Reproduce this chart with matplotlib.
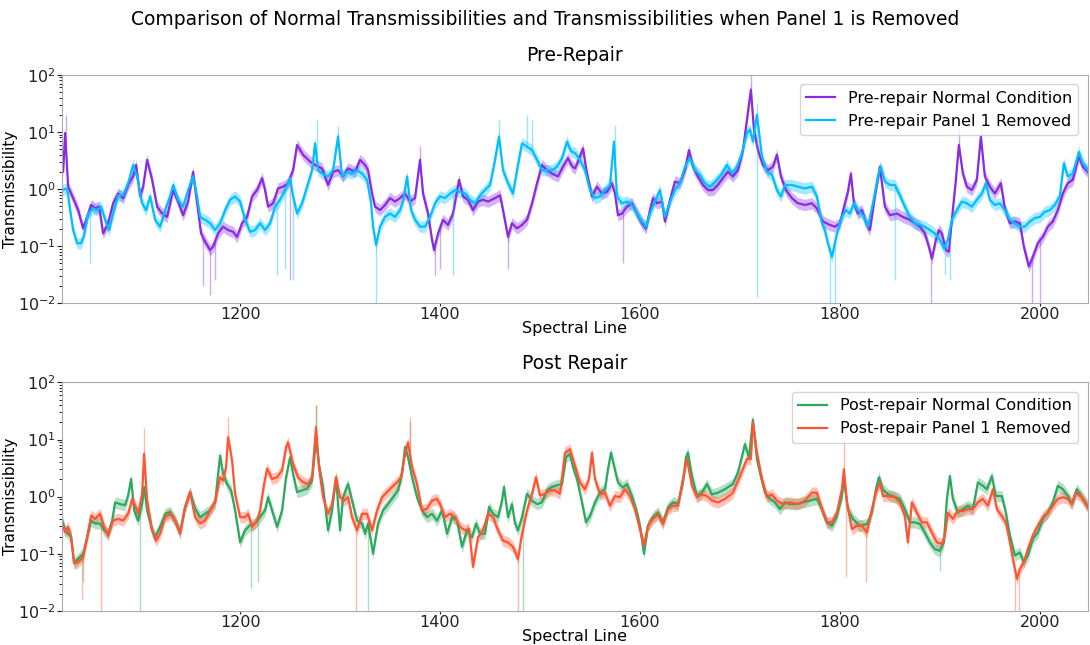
import numpy as np
import matplotlib
matplotlib.use("Agg")
import matplotlib.pyplot as plt

# ---------------------------------------------------------------
# DATA (log10 of transmissibility)

pre_normal_x = [1023, 1025, 1028, 1033, 1038, 1043, 1047, 1051, 1055, 1059, 1063, 1068, 1073, 1078, 1083, 1088,
                1093, 1096, 1100, 1103, 1107, 1112, 1117, 1122, 1127, 1133, 1138, 1143, 1148, 1153, 1157, 1161,
                1165, 1170, 1173, 1178, 1183, 1188, 1193, 1197, 1202, 1207, 1212, 1217, 1222, 1225, 1228, 1233,
                1238, 1243, 1248, 1253, 1257, 1263, 1270, 1275, 1282, 1288, 1293, 1298, 1303, 1308, 1315, 1320,
                1325, 1328, 1332, 1335, 1340, 1345, 1350, 1355, 1360, 1365, 1370, 1375, 1380, 1383, 1388, 1392,
                1394, 1398, 1403, 1408, 1413, 1419, 1423, 1428, 1433, 1438, 1443, 1448, 1455, 1460, 1463, 1468,
                1472, 1477, 1482, 1487, 1492, 1497, 1502, 1507, 1512, 1518, 1523, 1528, 1532, 1535, 1538, 1543,
                1547, 1552, 1557, 1562, 1567, 1572, 1575, 1578, 1582, 1587, 1592, 1597, 1602, 1606, 1610, 1613,
                1617, 1622, 1625, 1630, 1635, 1640, 1645, 1649, 1653, 1658, 1663, 1668, 1673, 1678, 1683, 1688,
                1693, 1698, 1703, 1707, 1711, 1714, 1718, 1723, 1728, 1733, 1737, 1741, 1746, 1752, 1758, 1765,
                1772, 1777, 1783, 1790, 1795, 1800, 1805, 1808, 1811, 1814, 1818, 1822, 1827, 1830, 1835, 1840,
                1845, 1850, 1857, 1863, 1870, 1875, 1880, 1885, 1889, 1892, 1896, 1899, 1902, 1906, 1909, 1912,
                1916, 1919, 1923, 1927, 1932, 1937, 1941, 1945, 1950, 1955, 1961, 1965, 1970, 1975, 1980, 1984,
                1989, 1993, 1998, 2003, 2008, 2013, 2018, 2023, 2028, 2033, 2039, 2043, 2048]
pre_normal_log = [0.30, 0.98, 0.04, -0.16, -0.37, -0.69, -0.49, -0.28, -0.34, -0.31, -0.78, -0.60, -0.25, -0.08, -0.16, 0.07,
                  0.22, 0.42, -0.13, 0.04, 0.51, 0.16, -0.31, -0.43, -0.49, -0.02, -0.22, -0.46, -0.22, 0.30, -0.25, -0.78,
                  -0.92, -1.07, -1.01, -0.78, -0.66, -0.72, -0.75, -0.84, -0.60, -0.49, -0.13, -0.02, 0.19, -0.02, -0.31, -0.25,
                  0.01, 0.04, 0.10, 0.33, 0.77, 0.60, 0.48, 0.42, 0.36, 0.07, 0.30, 0.33, 0.22, 0.36, 0.30, 0.51,
                  0.42, 0.33, -0.08, -0.31, -0.37, -0.28, -0.16, -0.22, -0.16, -0.08, -0.22, -0.16, 0.51, -0.08, -0.43, -0.89,
                  -1.07, -0.78, -0.54, -0.63, -0.43, 0.16, -0.13, -0.19, -0.37, -0.22, -0.19, -0.22, -0.16, -0.11, -0.37, -0.84,
                  -0.60, -0.69, -0.63, -0.54, -0.25, 0.10, 0.42, 0.33, 0.27, 0.22, 0.39, 0.54, 0.40, 0.36, 0.48, 0.71,
                  0.27, -0.13, 0.04, -0.08, -0.05, 0.10, -0.08, -0.46, -0.43, -0.31, -0.25, -0.43, -0.60, -0.69, -0.37, -0.16,
                  -0.25, -0.22, -0.57, -0.19, 0.13, 0.10, 0.33, 0.68, 0.39, 0.22, 0.07, -0.02, -0.02, 0.07, 0.19, 0.30,
                  0.22, 0.33, 0.68, 1.21, 1.74, 1.04, 0.68, 0.42, 0.33, 0.39, 0.60, 0.22, -0.02, -0.16, -0.25, -0.28,
                  -0.25, -0.34, -0.57, -0.63, -0.66, -0.60, -0.25, -0.05, 0.27, -0.25, -0.43, -0.37, -0.63, -0.72, -0.13, 0.39,
                  -0.31, -0.46, -0.43, -0.49, -0.54, -0.60, -0.66, -0.78, -1.01, -1.22, -0.89, -0.72, -0.78, -1.07, -1.10, -0.54,
                  0.16, 0.77, 0.27, 0.04, -0.02, 0.16, 0.92, 0.22, 0.04, -0.08, 0.10, -0.34, -0.60, -0.57, -0.60, -1.01,
                  -1.36, -1.19, -0.95, -0.84, -0.66, -0.57, -0.37, -0.08, 0.10, 0.16, 0.57, 0.39, 0.30]

pre_removed_x = [1022, 1027, 1030, 1033, 1037, 1041, 1044, 1048, 1053, 1057, 1061, 1065, 1069, 1073, 1078, 1083,
                 1088, 1093, 1097, 1102, 1106, 1110, 1115, 1120, 1125, 1130, 1133, 1138, 1143, 1148, 1153, 1157,
                 1160, 1165, 1170, 1175, 1180, 1185, 1190, 1195, 1200, 1205, 1210, 1215, 1220, 1225, 1230, 1235,
                 1240, 1245, 1250, 1253, 1257, 1262, 1267, 1272, 1275, 1278, 1282, 1288, 1293, 1298, 1302, 1307,
                 1312, 1317, 1322, 1327, 1331, 1333, 1336, 1340, 1345, 1350, 1355, 1360, 1363, 1367, 1371, 1375,
                 1380, 1385, 1390, 1395, 1400, 1405, 1410, 1415, 1420, 1425, 1430, 1435, 1440, 1445, 1450, 1455,
                 1459, 1463, 1468, 1473, 1477, 1482, 1487, 1492, 1497, 1502, 1507, 1512, 1517, 1522, 1527, 1531,
                 1535, 1540, 1545, 1550, 1555, 1560, 1565, 1570, 1574, 1577, 1582, 1587, 1592, 1597, 1602, 1606,
                 1610, 1615, 1620, 1625, 1630, 1635, 1640, 1645, 1650, 1655, 1660, 1665, 1670, 1677, 1682, 1687,
                 1692, 1697, 1702, 1707, 1710, 1713, 1717, 1722, 1727, 1732, 1737, 1741, 1745, 1752, 1758, 1765,
                 1772, 1777, 1782, 1785, 1788, 1792, 1797, 1802, 1806, 1810, 1814, 1818, 1823, 1828, 1833, 1838,
                 1841, 1845, 1850, 1855, 1860, 1865, 1870, 1875, 1880, 1885, 1890, 1895, 1900, 1904, 1908, 1912,
                 1917, 1922, 1927, 1932, 1937, 1942, 1946, 1950, 1955, 1960, 1965, 1970, 1975, 1980, 1985, 1990,
                 1995, 2000, 2005, 2010, 2015, 2020, 2024, 2028, 2033, 2039, 2043, 2048]
pre_removed_log = [-0.02, 0.01, -0.37, -0.72, -0.95, -0.95, -0.81, -0.43, -0.34, -0.37, -0.31, -0.54, -0.72, -0.43, -0.11, -0.11,
                   0.10, 0.42, 0.22, -0.25, -0.37, -0.13, -0.54, -0.66, -0.37, -0.13, 0.07, -0.19, -0.31, -0.02, 0.22, -0.13,
                   -0.49, -0.54, -0.60, -0.72, -0.60, -0.37, -0.19, -0.13, -0.22, -0.54, -0.75, -0.72, -0.60, -0.72, -0.60, -0.31,
                   -0.19, -0.02, 0.19, -0.13, -0.43, -0.25, 0.04, 0.33, 0.80, 0.33, 0.27, 0.22, 0.33, 0.92, 0.22, 0.30,
                   0.27, 0.33, 0.27, 0.16, -0.25, -0.66, -0.98, -0.66, -0.49, -0.43, -0.49, -0.37, -0.22, 0.22, -0.37, -0.54,
                   -0.66, -0.66, -0.49, -0.25, -0.13, -0.16, -0.08, -0.02, -0.05, -0.08, -0.19, -0.25, -0.11, -0.02, 0.07, 0.51,
                   0.92, 0.33, 0.10, -0.08, 0.33, 0.80, 0.74, 0.68, 0.51, 0.33, 0.33, 0.33, 0.39, 0.54, 0.83, 0.66,
                   0.63, 0.51, 0.33, -0.02, -0.16, -0.13, -0.02, 0.07, 0.83, -0.13, -0.25, -0.22, -0.28, -0.43, -0.57, -0.66,
                   -0.43, -0.22, -0.02, -0.49, -0.22, -0.02, 0.10, 0.39, 0.54, 0.33, 0.25, 0.10, 0.04, 0.16, 0.27, 0.42,
                   0.27, 0.39, 0.63, 0.98, 1.04, 0.83, 1.30, 0.57, 0.30, 0.25, -0.02, -0.13, 0.07, 0.07, 0.04, 0.01,
                   0.04, -0.13, -0.60, -0.72, -0.95, -1.19, -0.78, -0.49, -0.37, -0.43, -0.25, -0.37, -0.46, -0.66, -0.25, 0.22,
                   0.39, 0.13, 0.07, 0.07, -0.11, -0.31, -0.49, -0.60, -0.63, -0.66, -0.72, -0.78, -0.89, -1.04, -0.89, -0.54,
                   -0.37, -0.22, -0.25, -0.31, -0.19, -0.08, 0.10, -0.19, -0.28, -0.25, -0.37, -0.54, -0.60, -0.66, -0.66, -0.57,
                   -0.51, -0.49, -0.40, -0.37, -0.28, -0.13, 0.45, 0.22, 0.27, 0.65, 0.45, 0.33]

post_normal_x = [1022, 1025, 1028, 1031, 1034, 1038, 1043, 1047, 1051, 1055, 1060, 1064, 1068, 1072, 1075, 1080,
                 1085, 1088, 1091, 1094, 1098, 1102, 1104, 1107, 1112, 1115, 1120, 1125, 1130, 1135, 1140, 1145,
                 1150, 1155, 1160, 1165, 1170, 1175, 1180, 1183, 1187, 1191, 1195, 1200, 1205, 1210, 1215, 1220,
                 1225, 1228, 1232, 1237, 1242, 1246, 1250, 1253, 1257, 1262, 1267, 1272, 1276, 1279, 1283, 1288,
                 1292, 1296, 1300, 1303, 1308, 1312, 1317, 1322, 1325, 1328, 1333, 1338, 1343, 1348, 1353, 1358,
                 1362, 1365, 1368, 1372, 1377, 1382, 1387, 1392, 1397, 1402, 1407, 1412, 1417, 1422, 1427, 1432,
                 1436, 1440, 1445, 1449, 1453, 1458, 1462, 1464, 1468, 1472, 1475, 1478, 1482, 1487, 1492, 1497,
                 1502, 1507, 1512, 1517, 1522, 1526, 1530, 1533, 1537, 1542, 1546, 1550, 1555, 1560, 1565, 1568,
                 1571, 1574, 1578, 1583, 1587, 1592, 1597, 1600, 1604, 1608, 1613, 1618, 1623, 1628, 1633, 1638,
                 1643, 1646, 1648, 1652, 1657, 1662, 1667, 1672, 1678, 1685, 1690, 1693, 1698, 1702, 1705, 1709,
                 1713, 1717, 1720, 1725, 1730, 1735, 1740, 1745, 1750, 1757, 1763, 1770, 1777, 1782, 1787, 1792,
                 1797, 1802, 1804, 1808, 1813, 1820, 1827, 1832, 1836, 1839, 1843, 1848, 1853, 1860, 1865, 1870,
                 1875, 1880, 1885, 1890, 1895, 1900, 1904, 1907, 1910, 1913, 1918, 1923, 1928, 1933, 1938, 1943,
                 1947, 1952, 1956, 1962, 1966, 1970, 1975, 1980, 1984, 1988, 1993, 1998, 2003, 2008, 2013, 2018,
                 2023, 2028, 2032, 2037, 2042, 2048]
post_normal_log = [-0.42, -0.59, -0.65, -0.71, -1.17, -1.09, -1.00, -0.71, -0.42, -0.47, -0.47, -0.59, -0.65, -0.42, -0.10, -0.13,
                   -0.15, 0.02, 0.31, -0.24, -0.42, -0.13, 0.17, -0.24, -0.59, -0.71, -0.53, -0.30, -0.27, -0.42, -0.62, -0.18,
                   0.08, -0.21, -0.36, -0.30, -0.24, -0.10, 0.72, 0.40, 0.22, 0.11, -0.24, -0.80, -0.59, -0.50, -0.47, -0.36,
                   -0.24, -0.01, -0.24, -0.53, -0.24, 0.34, 0.69, 0.40, 0.08, 0.11, 0.14, 0.28, 1.00, 0.55, 0.17, -0.59,
                   -0.24, 0.34, -0.59, -0.01, 0.22, -0.07, -0.42, -0.47, -0.65, -0.47, -1.00, -0.47, -0.24, -0.13, -0.01, 0.11,
                   0.40, 0.87, 0.69, 0.34, -0.01, -0.24, -0.36, -0.30, -0.42, -0.24, -0.65, -0.36, -0.42, -0.88, -0.59, -0.71,
                   -0.47, -0.65, -0.65, -0.18, -0.30, -0.36, -0.07, 0.17, -0.36, -0.13, -0.47, -0.59, -0.36, 0.05, -0.07, -0.13,
                   -0.10, 0.11, 0.17, 0.20, 0.22, 0.69, 0.75, 0.52, 0.31, -0.10, -0.45, -0.34, -0.10, 0.07, 0.13, 0.48,
                   0.77, 0.54, 0.25, 0.16, 0.22, 0.01, -0.28, -0.51, -1.00, -0.51, -0.36, -0.28, -0.45, -0.19, -0.10, -0.13,
                   0.25, 0.69, 0.77, 0.36, 0.01, 0.07, 0.22, 0.04, 0.07, 0.13, 0.19, 0.22, 0.42, 0.71, 0.92, 0.68,
                   1.35, 0.66, 0.42, 0.07, -0.04, -0.10, -0.22, -0.10, -0.13, -0.13, -0.10, -0.07, -0.04, -0.22, -0.45, -0.51,
                   -0.34, 0.01, 0.31, -0.22, -0.39, -0.51, -0.48, -0.28, 0.13, 0.34, 0.13, 0.04, 0.01, -0.04, -0.22, -0.45,
                   -0.45, -0.48, -0.63, -0.80, -0.92, -0.95, -0.80, -0.04, 0.36, -0.04, -0.28, -0.22, -0.16, -0.22, 0.25, 0.19,
                   0.13, 0.36, 0.01, 0.01, -0.28, -0.68, -1.03, -0.98, -1.15, -1.03, -0.74, -0.63, -0.39, -0.28, -0.10, 0.19,
                   0.13, 0.01, -0.13, 0.13, -0.01, -0.16]

post_removed_x = [1022, 1025, 1028, 1031, 1034, 1038, 1043, 1047, 1051, 1055, 1060, 1064, 1068, 1073, 1078, 1083,
                  1088, 1092, 1095, 1098, 1102, 1104, 1107, 1112, 1116, 1120, 1125, 1130, 1135, 1140, 1145, 1150,
                  1155, 1160, 1165, 1170, 1175, 1180, 1183, 1186, 1188, 1192, 1195, 1200, 1205, 1208, 1212, 1217,
                  1220, 1224, 1227, 1232, 1237, 1242, 1246, 1248, 1253, 1258, 1263, 1268, 1272, 1276, 1279, 1283,
                  1288, 1292, 1296, 1300, 1304, 1308, 1312, 1317, 1322, 1327, 1332, 1337, 1342, 1347, 1352, 1357,
                  1361, 1365, 1368, 1372, 1377, 1382, 1387, 1392, 1397, 1400, 1405, 1410, 1415, 1420, 1425, 1429,
                  1433, 1438, 1443, 1448, 1453, 1458, 1463, 1468, 1473, 1478, 1482, 1487, 1492, 1496, 1500, 1505,
                  1510, 1515, 1520, 1525, 1530, 1535, 1540, 1545, 1549, 1552, 1555, 1560, 1565, 1570, 1575, 1580,
                  1585, 1590, 1595, 1600, 1604, 1608, 1613, 1618, 1623, 1628, 1633, 1638, 1643, 1647, 1652, 1657,
                  1662, 1667, 1672, 1678, 1685, 1693, 1700, 1707, 1711, 1713, 1717, 1722, 1727, 1732, 1737, 1743,
                  1750, 1758, 1765, 1772, 1777, 1782, 1787, 1792, 1797, 1802, 1804, 1807, 1812, 1817, 1822, 1827,
                  1832, 1836, 1840, 1843, 1848, 1855, 1860, 1865, 1868, 1872, 1877, 1882, 1887, 1892, 1897, 1902,
                  1905, 1908, 1913, 1918, 1923, 1928, 1933, 1938, 1943, 1948, 1953, 1957, 1962, 1966, 1970, 1973,
                  1977, 1980, 1984, 1988, 1993, 1998, 2003, 2008, 2013, 2018, 2023, 2028, 2032, 2036, 2042, 2048]
post_removed_log = [-0.48, -0.62, -0.53, -0.71, -1.17, -1.15, -1.06, -0.71, -0.33, -0.39, -0.30, -0.53, -0.68, -0.42, -0.39, -0.42,
                    -0.30, -0.04, -0.15, -0.30, 0.05, 0.75, -0.07, -0.59, -0.77, -0.65, -0.36, -0.30, -0.42, -0.65, -0.18, 0.08,
                    -0.36, -0.47, -0.42, -0.24, -0.10, 0.34, 0.28, 0.52, 1.04, 0.63, 0.05, -0.36, -0.36, -0.30, -0.53, -0.42,
                    -0.24, 0.22, 0.49, 0.31, 0.34, 0.46, 0.87, 0.95, 0.57, 0.34, 0.25, 0.22, 0.34, 1.22, 0.50, -0.01,
                    -0.30, -0.13, 0.34, -0.01, -0.07, -0.01, -0.36, -0.59, -0.30, -0.30, -0.59, -0.24, -0.01, 0.08, 0.17, 0.25,
                    0.34, 0.75, 0.95, 0.52, 0.22, -0.24, -0.21, -0.07, -0.04, -0.13, -0.36, -0.30, -0.36, -0.53, -0.59, -0.56,
                    -1.23, -0.71, -0.59, -0.30, -0.36, -0.59, -0.77, -0.80, -0.88, -1.09, -0.65, -0.24, 0.05, 0.34, 0.02, 0.05,
                    0.11, 0.11, 0.05, 0.77, 0.83, 0.54, 0.25, 0.13, 0.31, 0.77, 0.31, 0.04, 0.07, -0.16, 0.01, -0.01,
                    0.13, 0.01, -0.22, -0.57, -0.86, -0.51, -0.39, -0.31, -0.48, -0.22, -0.16, -0.16, 0.31, 0.66, 0.19, -0.01,
                    0.04, 0.01, -0.07, -0.10, -0.04, 0.07, 0.36, 0.66, 0.66, 1.30, 0.77, 0.31, -0.01, 0.04, -0.07, -0.13,
                    -0.10, -0.13, -0.07, 0.07, 0.07, -0.22, -0.45, -0.45, -0.28, 0.13, 0.48, -0.10, -0.57, -0.51, -0.51, -0.63,
                    -0.22, 0.07, 0.25, 0.01, 0.01, -0.01, -0.10, -0.34, -0.80, -0.10, -0.28, -0.45, -0.45, -0.63, -0.80, -0.83,
                    -0.68, -0.28, -0.39, -0.25, -0.25, -0.22, -0.22, -0.10, -0.04, -0.16, 0.13, -0.22, -0.34, -0.45, -0.80, -1.09,
                    -1.44, -1.27, -1.15, -0.92, -0.68, -0.51, -0.36, -0.28, -0.16, -0.04, -0.01, -0.04, -0.13, 0.07, -0.01, -0.19]

# isolated spikes of the shaded spread (spectral line, log10 of tip)
pre_normal_spike_x = [1026, 1163, 1170, 1175, 1250, 1380, 1395, 1400, 1468, 1583, 1711, 1891, 1919, 1941, 1992, 2000]
pre_normal_spike_log = [1.3, -1.7, -1.85, -1.6, -1.6, 0.75, -1.5, -1.4, -1.4, -1.3, 2.1, -2.3, 1.05, 1.15, -2.3, -2.0]
pre_removed_spike_x = [1050, 1237, 1245, 1253, 1277, 1298, 1336, 1413, 1459, 1487, 1492, 1575, 1717, 1717, 1790, 1795,
                       1855, 1905, 1910]
pre_removed_spike_log = [-1.3, -1.5, -1.4, -1.6, 1.2, 1.1, -2.2, -1.5, 1.2, 1.3, 1.2, 1.1, 1.5, -1.9, -2.2, -2.2,
                         -1.6, -1.5, -1.6]
post_normal_spike_x = [1043, 1100, 1211, 1218, 1276, 1328, 1370, 1483, 1900]
post_normal_spike_log = [-1.5, -2.0, -1.6, -1.5, 1.6, -2.0, 1.3, -2.0, -1.3]
post_removed_spike_x = [1042, 1061, 1104, 1188, 1276, 1316, 1370, 1478, 1804, 1806, 1826, 1975, 1979]
post_removed_spike_log = [-1.8, -2.0, 1.2, 1.4, 1.6, -2.0, 1.4, -2.0, 1.2, -1.4, -1.5, -2.0, -2.0]

xticks = [1200, 1400, 1600, 1800, 2000]


# ---------------------------------------------------------------
# VIZUALIZATION

def draw_series(ax, x, logv, spike_x, spike_log, color, label, spread=0.1):
    x = np.array(x)
    y = np.power(10.0, np.array(logv))
    ax.fill_between(x, y * 10 ** -spread, y * 10 ** spread, color=color, alpha=0.35, linewidth=0)
    base = np.power(10.0, np.interp(spike_x, x, logv))
    ax.vlines(spike_x, base, np.power(10.0, np.array(spike_log)), color=color, alpha=0.4, linewidth=1)
    ax.plot(x, y, color=color, linewidth=1.6, label=label)


def style_axis(ax, title):
    ax.set_yscale('log')
    ax.set_ylim(1e-2, 1e2)
    ax.set_xlim(1022, 2048)
    ax.set_xticks(xticks)
    ax.set_title(title, fontsize=13.5, pad=10)
    ax.set_xlabel('Spectral Line', fontsize=11.5, labelpad=-1)
    ax.set_ylabel('Transmissibility', fontsize=11, labelpad=0)
    ax.tick_params(labelsize=11.5, colors='#222222')
    ax.tick_params(axis='x', length=2, pad=1)
    ax.tick_params(axis='y', pad=1)
    for s in ax.spines.values():
        s.set_color('#aaaaaa')
    ax.legend(loc='upper right', fontsize=11.5, handlelength=1.8, borderaxespad=0.6)


fig = plt.figure(figsize=(10.9, 6.45), dpi=100)
ax1 = fig.add_axes([0.057, 0.530, 0.941, 0.354])
ax2 = fig.add_axes([0.057, 0.053, 0.941, 0.354])

purple = '#8a2be2'
cyan = '#00bfff'
green = '#2ea85f'
red = '#ff5533'

draw_series(ax1, pre_normal_x, pre_normal_log, pre_normal_spike_x, pre_normal_spike_log,
            purple, 'Pre-repair Normal Condition')
draw_series(ax1, pre_removed_x, pre_removed_log, pre_removed_spike_x, pre_removed_spike_log,
            cyan, 'Pre-repair Panel 1 Removed')
style_axis(ax1, 'Pre-Repair')

draw_series(ax2, post_normal_x, post_normal_log, post_normal_spike_x, post_normal_spike_log,
            green, 'Post-repair Normal Condition')
draw_series(ax2, post_removed_x, post_removed_log, post_removed_spike_x, post_removed_spike_log,
            red, 'Post-repair Panel 1 Removed')
style_axis(ax2, 'Post Repair')

fig.suptitle('Comparison of Normal Transmissibilities and Transmissibilities when Panel 1 is Removed',
             fontsize=13.5, y=0.985)

fig.savefig('out.png', dpi=100)
